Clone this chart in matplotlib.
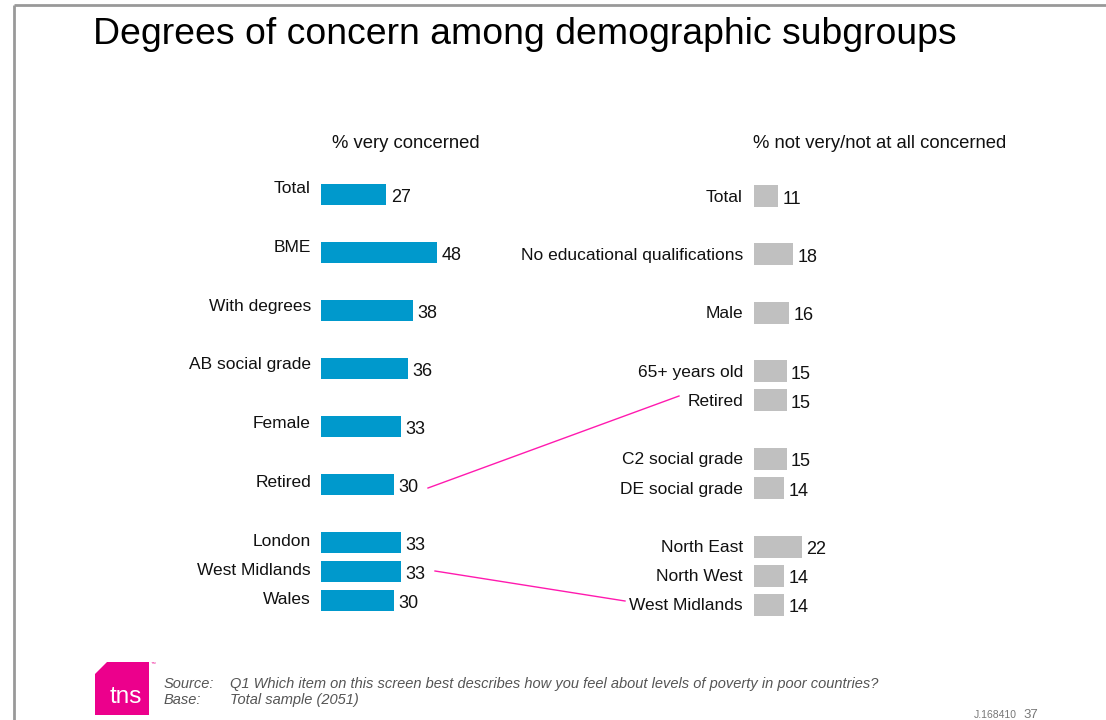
import matplotlib
matplotlib.use("Agg")
import matplotlib.pyplot as plt
from matplotlib.patches import Polygon
from matplotlib.lines import Line2D

plt.rcParams['font.family'] = ['Liberation Sans', 'DejaVu Sans']

W, H = 1106, 720

title = "Degrees of concern among demographic subgroups"
left_header = "% very concerned"
right_header = "% not very/not at all concerned"

# Subgroups shown in blocks; a blank row separates consecutive blocks
very_groups = [["Total"], ["BME"], ["With degrees"], ["AB social grade"],
               ["Female"], ["Retired"], ["London", "West Midlands", "Wales"]]
very_values = [27, 48, 38, 36, 33, 30, 33, 33, 30]

not_groups = [["Total"], ["No educational qualifications"], ["Male"],
              ["65+ years old", "Retired"], ["C2 social grade", "DE social grade"],
              ["North East", "North West", "West Midlands"]]
not_values = [11, 18, 16, 15, 15, 15, 14, 22, 14, 14]

source_text = "Q1 Which item on this screen best describes how you feel about levels of poverty in poor countries?"
base_text = "Total sample (2051)"

BLUE = "#0099CC"
GREY_BAR = "#C0C0C0"
PINK = "#FF1AAF"
TEXT = "#111111"
LABEL_SIZE = 12.5


def rows_of(groups):
    labels, rows, r = [], [], 0
    for g in groups:
        for name in g:
            labels.append(name)
            rows.append(r)
            r += 1
        r += 1
    return labels, rows


fig = plt.figure(figsize=(W / 100, H / 100), dpi=100)
fig.patch.set_facecolor("white")


def px_axes(x0, y0, x1, y1):
    return fig.add_axes([x0 / W, 1 - y1 / H, (x1 - x0) / W, (y1 - y0) / H])


# Full-figure overlay in pixel units for frame, titles and footer
ov = px_axes(0, 0, W, H)
ov.set_xlim(0, W)
ov.set_ylim(H, 0)
ov.axis("off")
ov.set_zorder(5)
ov.patch.set_alpha(0)


def bar_panel(x0, scale, top_px, step_px, bar_px, groups, values, color):
    ax = px_axes(x0, 165, x0 + 300, 630)
    ax.set_xlim(0, 300 / scale)
    ax.set_ylim((630 - top_px) / step_px, (165 - top_px) / step_px)
    ax.axis("off")
    labels, rows = rows_of(groups)
    ax.barh(rows, values, height=bar_px / step_px, color=color, left=0)
    for v, r in zip(values, rows):
        ax.annotate(str(v), (v, r), xytext=(4.5, -7.5), textcoords="offset pixels",
                    ha="left", va="baseline", fontsize=13, color=TEXT)
    return ax, labels, rows


# Left panel: % very concerned
axl, l_labels, l_rows = bar_panel(321, 2.42, 194.5, 29.0, 21, very_groups, very_values, BLUE)
for name, r in zip(l_labels, l_rows):
    ov.text(311, 193.3 + 29.35 * r, name, ha="right", va="baseline", fontsize=LABEL_SIZE, color=TEXT)

# Right panel: % not very / not at all concerned
axr, r_labels, r_rows = bar_panel(754, 2.17, 196.0, 29.21, 22, not_groups, not_values, GREY_BAR)
for name, r in zip(r_labels, r_rows):
    ov.text(743, 196.0 + 29.21 * r + 5.5, name, ha="right", va="baseline", fontsize=LABEL_SIZE, color=TEXT)

# Headers and title
ov.text(406, 143, left_header, ha="center", va="center", fontsize=13.3, color=TEXT)
ov.text(880, 143, right_header, ha="center", va="center", fontsize=13.3, color=TEXT)
ov.text(93, 44, title, ha="left", va="baseline", fontsize=26.9, color="black")

# Links between the same subgroup in both panels
ov.add_line(Line2D([428, 679], [488, 396], color=PINK, lw=1))
ov.add_line(Line2D([435, 625], [571, 601], color=PINK, lw=1))

# Slide frame
ov.add_line(Line2D([14, W], [5, 5], color="#999999", lw=2, solid_capstyle="butt"))
ov.add_line(Line2D([14, 14], [5, H], color="#999999", lw=2, solid_capstyle="butt"))

# Logo
logo = Polygon([(95, 674), (107, 662), (149, 662), (149, 715), (95, 715)],
               closed=True, facecolor="#EC008C", edgecolor="none")
ov.add_patch(logo)
ov.text(126, 697, "tns", ha="center", va="center", fontsize=17.5, color="white")
ov.text(151, 663, "\u2122", ha="left", va="center", fontsize=3.5, color="#EC008C")

# Footer notes
FOOT = "#555555"
FOOT_SIZE = 10.55
ov.text(164, 688, "Source:", ha="left", va="baseline", fontsize=FOOT_SIZE, style="italic", color=FOOT)
ov.text(230, 688, source_text, ha="left", va="baseline", fontsize=FOOT_SIZE, style="italic", color=FOOT)
ov.text(164, 704, "Base:", ha="left", va="baseline", fontsize=FOOT_SIZE, style="italic", color=FOOT)
ov.text(230, 704, base_text, ha="left", va="baseline", fontsize=FOOT_SIZE, style="italic", color=FOOT)
ov.text(1017, 718, "J.168410", ha="right", va="baseline", fontsize=7.5, color="#777777")
ov.text(1023, 718, "37", ha="left", va="baseline", fontsize=9.5, color="#777777")

fig.savefig("out.png", dpi=100, facecolor="white")
